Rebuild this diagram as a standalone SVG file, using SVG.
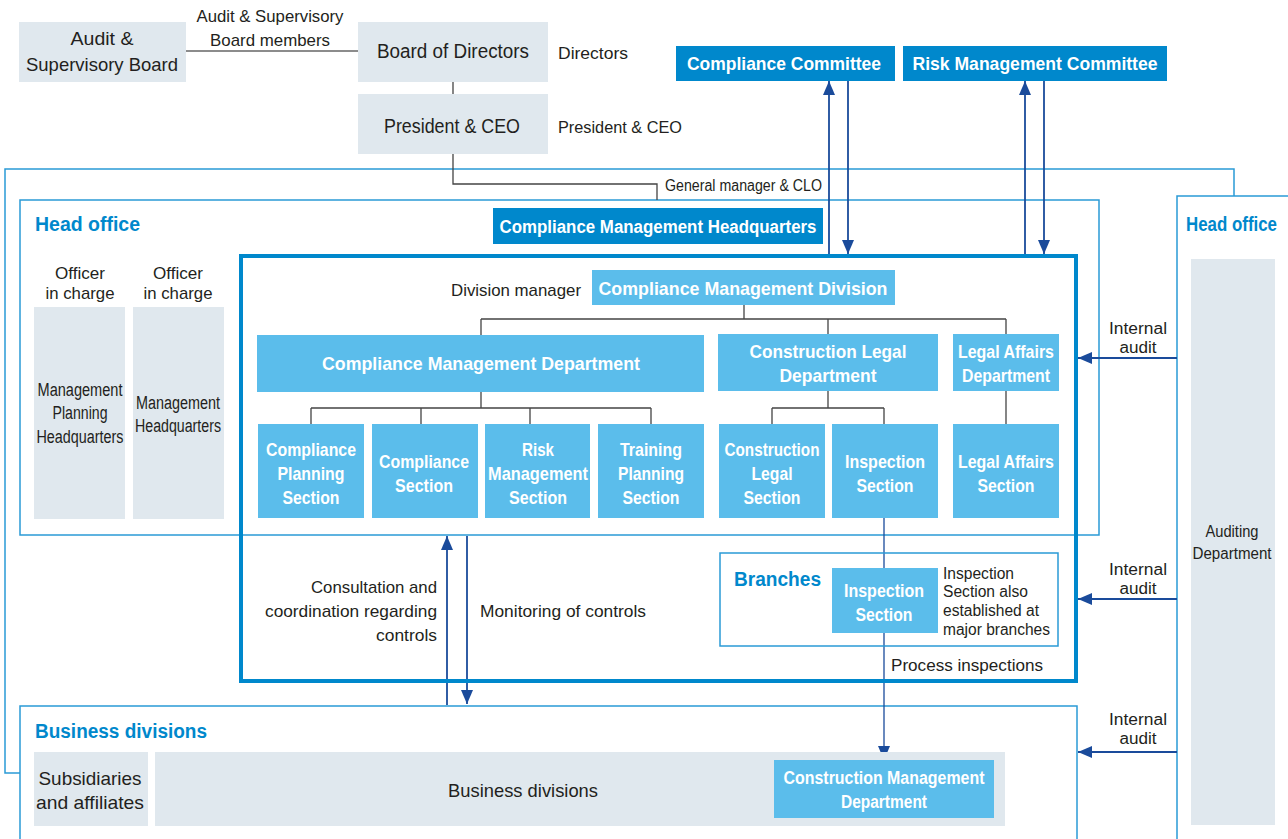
<svg xmlns="http://www.w3.org/2000/svg" width="1288" height="839" viewBox="0 0 1288 839">
<style>
.g{fill:#e0e8ee}
.lb{fill:#5bbdeb}
.db{fill:#0088cc}
.frame{fill:none;stroke:#2a9ad6;stroke-width:1.5}
.thick{fill:none;stroke:#0088cc;stroke-width:4}
.tree{fill:none;stroke:#444;stroke-width:1.3}
.arr{fill:none;stroke:#1a4b9b;stroke-width:1.8;marker-end:url(#ah)}
text{font-family:"Liberation Sans",Arial,sans-serif;fill:#231f20}
.c{text-anchor:middle}
.r{text-anchor:end}
.w{fill:#fff;font-weight:bold}
.h{fill:#0088cc;font-weight:bold;font-size:20px}
.s16{font-size:16px}
.s17{font-size:17px}
.s18{font-size:18px}
.s19{font-size:19px}
.s20{font-size:20px}
</style>
<defs>
<marker id="ah" markerUnits="userSpaceOnUse" markerWidth="14" markerHeight="12" viewBox="0 0 14 12" refX="14" refY="6" orient="auto">
<path d="M0,0 L14,6 L0,12 z" fill="#1a4b9b"/>
</marker>
</defs>

<g id="frames">
<rect x="20" y="200" width="1079" height="335" class="frame"/>
<rect x="1177" y="196" width="130" height="700" class="frame"/>
<rect x="20" y="706" width="1057" height="200" class="frame"/>
<path d="M20,773 H5 V169 H1234 V196" class="frame"/>
</g>

<g id="connectors">
<path d="M186,51 H358" fill="none" stroke="#666" stroke-width="1.3"/>
<path d="M453,82 V94" class="tree"/>
<path d="M453,154 V184 H657 V200" class="tree"/>
<path d="M744,305 V319 M481,319 H1006 M481,319 V335 M828,319 V334 M1006,319 V334" class="tree"/>
<path d="M481,392 V408 M311,408 H651 M311,408 V424 M421,408 V424 M530,408 V424 M651,408 V424" class="tree"/>
<path d="M828,391 V408 M772,408 H884 M772,408 V424 M884,408 V424" class="tree"/>
<path d="M1006,391 V424" class="tree"/>
<path d="M884,518 V760" class="arr" style="stroke-width:1.3"/>
<path d="M829,256 V81" class="arr"/>
<path d="M848,81 V254" class="arr"/>
<path d="M1025,256 V81" class="arr"/>
<path d="M1044,81 V254" class="arr"/>
<path d="M1177,358 H1078" class="arr"/>
<path d="M1177,599 H1078" class="arr"/>
<path d="M1177,752 H1078" class="arr"/>
<path d="M447,705 V536" class="arr"/>
<path d="M467,536 V704" class="arr"/>
</g>

<g id="division-frame">
<rect x="241" y="256" width="835" height="425" class="thick"/>
</g>

<g id="audit-board">
<rect x="19" y="22" width="167" height="60" class="g"/>
<text class="c s19" x="102" y="45" textLength="63" lengthAdjust="spacingAndGlyphs">Audit &amp;</text>
<text class="c s19" x="102" y="71" textLength="152" lengthAdjust="spacingAndGlyphs">Supervisory Board</text>
</g>
<g id="audit-label">
<text class="c s17" x="270" y="22" textLength="147" lengthAdjust="spacingAndGlyphs">Audit &amp; Supervisory</text>
<text class="c s17" x="270" y="46" textLength="120" lengthAdjust="spacingAndGlyphs">Board members</text>
</g>
<g id="board">
<rect x="358" y="22" width="190" height="60" class="g"/>
<text class="c s20" x="453" y="58" textLength="152" lengthAdjust="spacingAndGlyphs">Board of Directors</text>
<text class="s17" x="558" y="59" textLength="70" lengthAdjust="spacingAndGlyphs">Directors</text>
</g>
<g id="ceo">
<rect x="358" y="94" width="190" height="60" class="g"/>
<text class="c s20" x="452" y="133" textLength="136" lengthAdjust="spacingAndGlyphs">President &amp; CEO</text>
<text class="s17" x="558" y="133" textLength="124" lengthAdjust="spacingAndGlyphs">President &amp; CEO</text>
</g>
<g id="clo-label">
<text class="s16" x="665" y="191" textLength="157" lengthAdjust="spacingAndGlyphs">General manager &amp; CLO</text>
</g>

<g id="compliance-committee">
<rect x="676" y="46" width="219" height="35" class="db"/>
<text class="c w s19" x="784" y="70" textLength="194" lengthAdjust="spacingAndGlyphs">Compliance Committee</text>
</g>
<g id="risk-committee">
<rect x="903" y="46" width="264" height="35" class="db"/>
<text class="c w s19" x="1035" y="70" textLength="245" lengthAdjust="spacingAndGlyphs">Risk Management Committee</text>
</g>

<g id="head-office">
<text class="h" x="35" y="231" textLength="105" lengthAdjust="spacingAndGlyphs">Head office</text>
<rect x="493" y="208" width="330" height="36" class="db"/>
<text class="c w s18" x="658" y="233" textLength="317" lengthAdjust="spacingAndGlyphs">Compliance Management Headquarters</text>
</g>

<g id="officer1">
<text class="c s17" x="80" y="279" textLength="50" lengthAdjust="spacingAndGlyphs">Officer</text>
<text class="c s17" x="80" y="299" textLength="69" lengthAdjust="spacingAndGlyphs">in charge</text>
<rect x="34" y="307" width="91" height="212" class="g"/>
<text class="c s18" x="80" y="396" textLength="85" lengthAdjust="spacingAndGlyphs">Management</text>
<text class="c s18" x="80" y="419" textLength="55" lengthAdjust="spacingAndGlyphs">Planning</text>
<text class="c s18" x="80" y="443" textLength="87" lengthAdjust="spacingAndGlyphs">Headquarters</text>
</g>
<g id="officer2">
<text class="c s17" x="178" y="279" textLength="50" lengthAdjust="spacingAndGlyphs">Officer</text>
<text class="c s17" x="178" y="299" textLength="69" lengthAdjust="spacingAndGlyphs">in charge</text>
<rect x="133" y="307" width="91" height="212" class="g"/>
<text class="c s18" x="178" y="409" textLength="84" lengthAdjust="spacingAndGlyphs">Management</text>
<text class="c s18" x="178" y="432" textLength="86" lengthAdjust="spacingAndGlyphs">Headquarters</text>
</g>

<g id="cm-division">
<text class="r s17" x="581" y="296" textLength="130" lengthAdjust="spacingAndGlyphs">Division manager</text>
<rect x="592" y="270" width="303" height="35" class="lb"/>
<text class="c w s19" x="743" y="295" textLength="289" lengthAdjust="spacingAndGlyphs">Compliance Management Division</text>
</g>

<g id="cm-department">
<rect x="257" y="335" width="447" height="57" class="lb"/>
<text class="c w s19" x="481" y="370" textLength="318" lengthAdjust="spacingAndGlyphs">Compliance Management Department</text>
</g>
<g id="cl-department">
<rect x="718" y="334" width="220" height="57" class="lb"/>
<text class="c w s19" x="828" y="358" textLength="157" lengthAdjust="spacingAndGlyphs">Construction Legal</text>
<text class="c w s19" x="828" y="382" textLength="97" lengthAdjust="spacingAndGlyphs">Department</text>
</g>
<g id="la-department">
<rect x="953" y="334" width="106" height="57" class="lb"/>
<text class="c w s19" x="1006" y="358" textLength="96" lengthAdjust="spacingAndGlyphs">Legal Affairs</text>
<text class="c w s19" x="1006" y="382" textLength="88" lengthAdjust="spacingAndGlyphs">Department</text>
</g>

<g id="cp-section">
<rect x="258" y="424" width="106" height="94" class="lb"/>
<text class="c w s19" x="311" y="456" textLength="90" lengthAdjust="spacingAndGlyphs">Compliance</text>
<text class="c w s19" x="311" y="480" textLength="67" lengthAdjust="spacingAndGlyphs">Planning</text>
<text class="c w s19" x="311" y="504" textLength="57" lengthAdjust="spacingAndGlyphs">Section</text>
</g>
<g id="c-section">
<rect x="372" y="424" width="106" height="94" class="lb"/>
<text class="c w s19" x="424" y="468" textLength="90" lengthAdjust="spacingAndGlyphs">Compliance</text>
<text class="c w s19" x="424" y="492" textLength="58" lengthAdjust="spacingAndGlyphs">Section</text>
</g>
<g id="rm-section">
<rect x="485" y="424" width="105" height="94" class="lb"/>
<text class="c w s19" x="538" y="456" textLength="32" lengthAdjust="spacingAndGlyphs">Risk</text>
<text class="c w s19" x="538" y="480" textLength="100" lengthAdjust="spacingAndGlyphs">Management</text>
<text class="c w s19" x="538" y="504" textLength="58" lengthAdjust="spacingAndGlyphs">Section</text>
</g>
<g id="tp-section">
<rect x="598" y="424" width="106" height="94" class="lb"/>
<text class="c w s19" x="651" y="456" textLength="62" lengthAdjust="spacingAndGlyphs">Training</text>
<text class="c w s19" x="651" y="480" textLength="66" lengthAdjust="spacingAndGlyphs">Planning</text>
<text class="c w s19" x="651" y="504" textLength="57" lengthAdjust="spacingAndGlyphs">Section</text>
</g>
<g id="cl-section">
<rect x="719" y="424" width="106" height="94" class="lb"/>
<text class="c w s19" x="772" y="456" textLength="95" lengthAdjust="spacingAndGlyphs">Construction</text>
<text class="c w s19" x="772" y="480" textLength="41" lengthAdjust="spacingAndGlyphs">Legal</text>
<text class="c w s19" x="772" y="504" textLength="57" lengthAdjust="spacingAndGlyphs">Section</text>
</g>
<g id="insp-section">
<rect x="832" y="424" width="106" height="94" class="lb"/>
<text class="c w s19" x="885" y="468" textLength="80" lengthAdjust="spacingAndGlyphs">Inspection</text>
<text class="c w s19" x="885" y="492" textLength="57" lengthAdjust="spacingAndGlyphs">Section</text>
</g>
<g id="la-section">
<rect x="953" y="424" width="106" height="94" class="lb"/>
<text class="c w s19" x="1006" y="468" textLength="96" lengthAdjust="spacingAndGlyphs">Legal Affairs</text>
<text class="c w s19" x="1006" y="492" textLength="57" lengthAdjust="spacingAndGlyphs">Section</text>
</g>

<g id="branches">
<rect x="720" y="553" width="338" height="93" class="frame"/>
<text class="h" x="734" y="586" textLength="87" lengthAdjust="spacingAndGlyphs">Branches</text>
<rect x="832" y="568" width="106" height="65" class="lb"/>
<text class="c w s18" x="884" y="597" textLength="80" lengthAdjust="spacingAndGlyphs">Inspection</text>
<text class="c w s18" x="884" y="621" textLength="57" lengthAdjust="spacingAndGlyphs">Section</text>
<text class="s16" x="943" y="579" textLength="71" lengthAdjust="spacingAndGlyphs">Inspection</text>
<text class="s16" x="943" y="597" textLength="85" lengthAdjust="spacingAndGlyphs">Section also</text>
<text class="s16" x="943" y="616" textLength="96" lengthAdjust="spacingAndGlyphs">established at</text>
<text class="s16" x="943" y="635" textLength="107" lengthAdjust="spacingAndGlyphs">major branches</text>
</g>
<g id="labels">
<text class="s17" x="891" y="671" textLength="152" lengthAdjust="spacingAndGlyphs">Process inspections</text>
<text class="r s17" x="437" y="593" textLength="126" lengthAdjust="spacingAndGlyphs">Consultation and</text>
<text class="r s17" x="437" y="617" textLength="172" lengthAdjust="spacingAndGlyphs">coordination regarding</text>
<text class="r s17" x="437" y="641" textLength="61" lengthAdjust="spacingAndGlyphs">controls</text>
<text class="s17" x="480" y="617" textLength="166" lengthAdjust="spacingAndGlyphs">Monitoring of controls</text>
<text class="c s16" x="1138" y="334" textLength="58" lengthAdjust="spacingAndGlyphs">Internal</text>
<text class="c s16" x="1138" y="353" textLength="37" lengthAdjust="spacingAndGlyphs">audit</text>
<text class="c s16" x="1138" y="575" textLength="58" lengthAdjust="spacingAndGlyphs">Internal</text>
<text class="c s16" x="1138" y="594" textLength="37" lengthAdjust="spacingAndGlyphs">audit</text>
<text class="c s16" x="1138" y="725" textLength="58" lengthAdjust="spacingAndGlyphs">Internal</text>
<text class="c s16" x="1138" y="744" textLength="37" lengthAdjust="spacingAndGlyphs">audit</text>
</g>

<g id="audit-office">
<text class="h" x="1186" y="231" textLength="91" lengthAdjust="spacingAndGlyphs">Head office</text>
<rect x="1191" y="259" width="84" height="566" class="g"/>
<text class="c s16" x="1232" y="537" textLength="53" lengthAdjust="spacingAndGlyphs">Auditing</text>
<text class="c s16" x="1232" y="559" textLength="79" lengthAdjust="spacingAndGlyphs">Department</text>
</g>

<g id="business">
<text class="h" x="35" y="738" textLength="172" lengthAdjust="spacingAndGlyphs">Business divisions</text>
<rect x="34" y="752" width="114" height="74" class="g"/>
<text class="c s19" x="90" y="785" textLength="103" lengthAdjust="spacingAndGlyphs">Subsidiaries</text>
<text class="c s19" x="90" y="809" textLength="108" lengthAdjust="spacingAndGlyphs">and affiliates</text>
<rect x="155" y="752" width="850" height="74" class="g"/>
<text class="c s19" x="523" y="797" textLength="150" lengthAdjust="spacingAndGlyphs">Business divisions</text>
<rect x="774" y="760" width="220" height="58" class="lb"/>
<text class="c w s18" x="884" y="784" textLength="201" lengthAdjust="spacingAndGlyphs">Construction Management</text>
<text class="c w s18" x="884" y="808" textLength="86" lengthAdjust="spacingAndGlyphs">Department</text>
</g>
</svg>
